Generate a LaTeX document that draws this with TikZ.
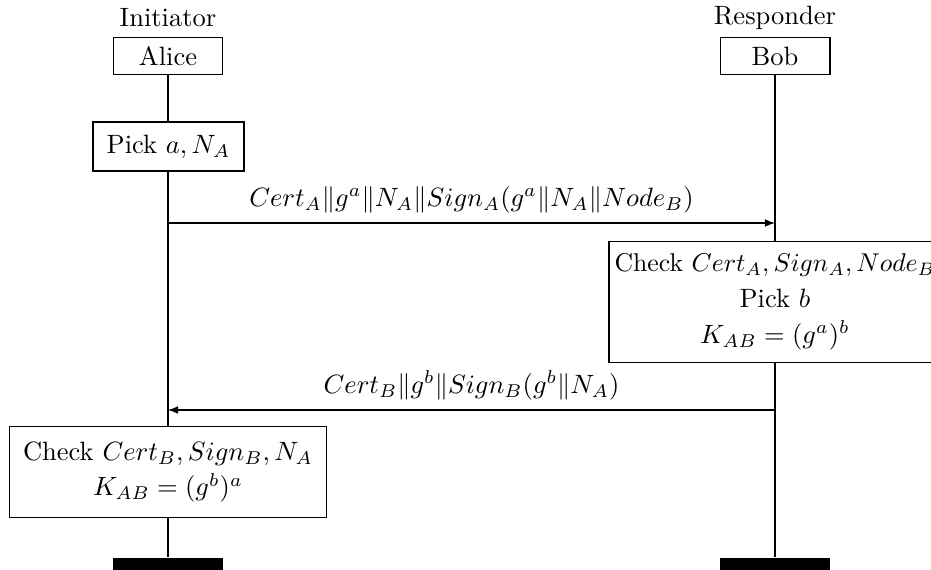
\documentclass[tikz,border=0pt]{standalone}
\usetikzlibrary{arrows.meta}
\begin{document}
\begin{tikzpicture}[x=0.3774pt,y=-0.3774pt,
  box/.style={draw,fill=white,inner sep=0pt,align=center},
  bar/.style={fill=black,inner sep=0pt,minimum width=41.5pt,minimum height=6pt,anchor=north},
  msg/.style={-{Latex[length=3.8pt,width=2.9pt]}},
  role/.style={inner sep=0pt}]
\useasboundingbox (0,0) rectangle (931,570);
\clip (0,0) rectangle (931,570);

% instance heads
\node[role] (ini) at (168,18) {Initiator};
\node[role] (res) at (775,18) {Responder};
\node[box,minimum width=41.1pt,minimum height=14.3pt] (alice) at (168,56) {Alice};
\node[box,minimum width=41.5pt,minimum height=14.3pt] (bob) at (775,56) {Bob};

% instance ends
\node[bar] (aend) at (168,557) {};
\node[bar] (bend) at (775,557) {};

% lifelines
\draw (alice.south) -- (aend.north);
\draw (bob.south) -- (bend.north);

% local actions
\node[box,minimum width=57pt,minimum height=18.5pt] (pick) at (168.5,146.5) {Pick $a, N_A$};
\node[box,minimum width=125.3pt,minimum height=46pt] (chkb) at (775,302)
  {\scalebox{0.97}{Check $Cert_A, Sign_A, Node_B$}\\[1.5pt] Pick $b$\\[1.5pt] $K_{AB} = (g^a)^b$};
\node[box,minimum width=119.6pt,minimum height=34pt] (chka) at (168,472)
  {Check $Cert_B, Sign_B, N_A$\\[1.5pt] $K_{AB} = (g^b)^a$};

% messages
\coordinate (m1s) at (168,223);
\coordinate (m1e) at (775,223);
\coordinate (m2s) at (775,410);
\coordinate (m2e) at (168,410);
\draw[msg] (m1s) -- node[above=0.3pt] (l1) {$Cert_A\|g^a\|N_A\|Sign_A(g^a\|N_A\|Node_B)$} (m1e);
\draw[msg] (m2s) -- node[above=0.3pt] (l2) {$Cert_B\|g^b\|Sign_B(g^b\|N_A)$} (m2e);
\end{tikzpicture}
\end{document}
